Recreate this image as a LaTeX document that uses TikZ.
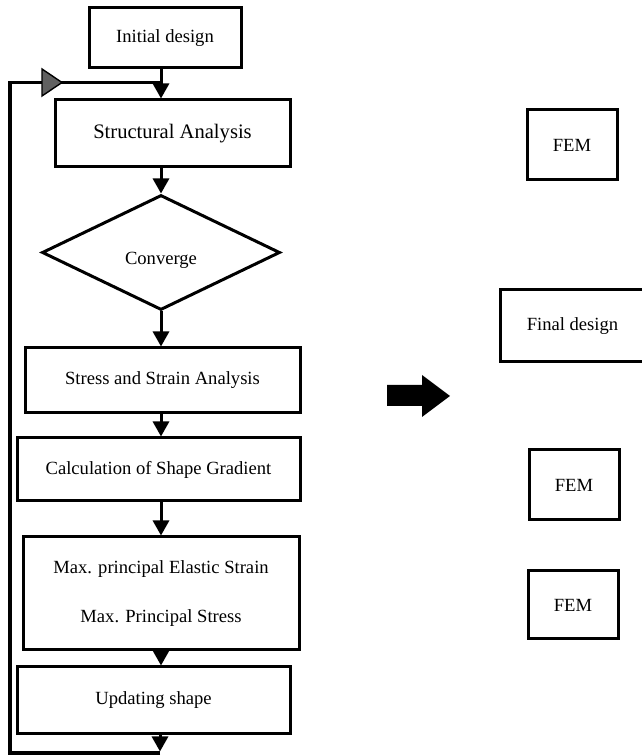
\documentclass[tikz,border=0pt]{standalone}
\usepackage{fontspec}
\setmainfont{Liberation Serif}
\usetikzlibrary{shapes.geometric,arrows.meta}
\tikzset{
  box/.style={draw, line width=3pt, rectangle, inner sep=0pt, font=\fontsize{18.6}{22}\selectfont},
  arr/.style={line width=3pt, -{Triangle[length=15pt,width=16pt]}},
  loopline/.style={line width=3.2pt},
}
\begin{document}
\begin{tikzpicture}[x=1pt,y=1pt]
\useasboundingbox (0,0) rectangle (642,755);
\coordinate (col) at (161,0);
\node[box, minimum width=152pt, minimum height=60pt] (init) at (165,717) {Initial design};
\node[box, minimum width=235pt, minimum height=67pt, font=\fontsize{20.6}{24}\selectfont] (struct) at (172.5,621.5) {Structural Analysis};
\node[box, diamond, minimum width=238pt, minimum height=115pt] (conv) at (161,502.5) {};
\node[font=\fontsize{18.6}{22}\selectfont] (convtext) at (161,495) {Converge};
\node[box, minimum width=275pt, minimum height=65pt] (stress) at (162.5,374.5) {Stress and Strain Analysis};
\node[box, minimum width=283pt, minimum height=63pt] (calc) at (158.5,285.5) {Calculation of Shape Gradient};
\node[box, minimum width=276pt, minimum height=113pt, align=center, font=\fontsize{18.6}{49}\selectfont] (max) at (161,161.5) {Max. principal Elastic Strain\\Max. Principal Stress};
\node[box, minimum width=273pt, minimum height=67pt] (upd) at (153.5,54.5) {Updating shape};
\coordinate (bot) at (160,2);
\coordinate (bl) at (10,2);
\coordinate (tl) at (10,672.5);
\coordinate (tr) at (161,672.5);
% main flow
\draw[arr] (init.south -| col) -- (struct.north -| col);
\draw[arr] (struct.south -| col) -- (conv.north);
\draw[arr] (conv.south) -- (stress.north -| col);
\draw[arr] (stress.south -| col) -- (calc.north -| col);
\draw[arr] (calc.south -| col) -- (max.north -| col);
\draw[arr] (max.south -| col) -- (upd.north -| col);
\draw[arr] (upd.south -| bot) -- ([yshift=1.5pt]bot);
% feedback loop
\draw[loopline, line join=miter] (bot) -- (bl) -- (tl) -- (tr);
\draw[line width=1.4pt, fill=black!62] (42,686) -- (62,672.5) -- (42,659) -- cycle;
% right side
\fill (387,370) -- (422,370) -- (422,380) -- (450,359) -- (422,338) -- (422,349) -- (387,349) -- cycle;
\node[box, minimum width=90pt, minimum height=70pt] (fem1) at (572,610) {FEM};
\node[box, minimum width=145pt, minimum height=72pt] (final) at (572.5,429) {Final design};
\node[box, minimum width=90pt, minimum height=70pt] (fem2) at (574,270) {FEM};
\node[box, minimum width=90pt, minimum height=68pt] (fem3) at (573,150) {FEM};
\end{tikzpicture}
\end{document}
